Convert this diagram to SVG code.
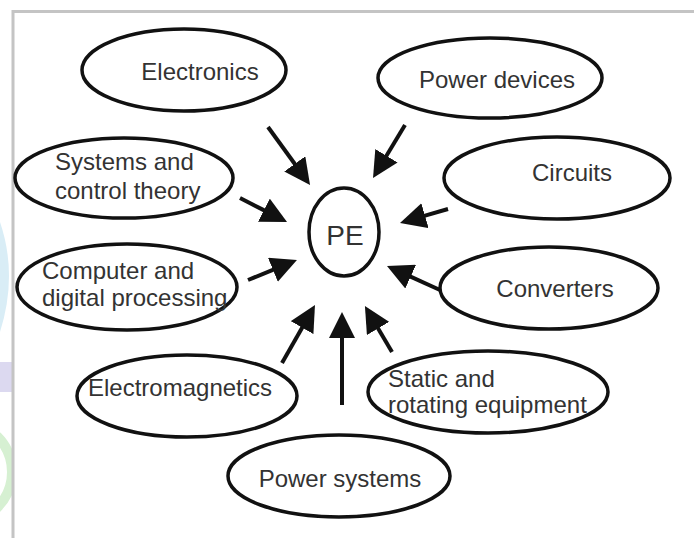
<svg xmlns="http://www.w3.org/2000/svg" width="694" height="538" viewBox="0 0 694 538">
  <style>
    .node ellipse { fill: #ffffff; stroke: #111111; stroke-width: 3.5; }
    .node text { font-family: "Liberation Sans", Arial, sans-serif; font-size: 24px; fill: #333333; }
    .pe text { font-size: 28px; }
    .conn line { stroke: #111111; stroke-width: 4; marker-end: url(#head); }
    .frame { stroke: #c4c4c4; stroke-width: 3; fill: none; }
  </style>
  <defs>
    <marker id="head" viewBox="0 0 10 10" refX="1" refY="5" markerWidth="26" markerHeight="26" markerUnits="userSpaceOnUse" orient="auto">
      <path d="M0,0 L10,5 L0,10 z" fill="#111111"/>
    </marker>
    <clipPath id="leftstrip"><rect x="0" y="0" width="12" height="538"/></clipPath>
  </defs>
  <rect width="694" height="538" fill="#ffffff"/>
  <g id="watermark" clip-path="url(#leftstrip)">
    <path d="M0,222 Q18,275 0,332 Z" fill="#d9edf6"/>
    <rect x="0" y="362" width="12" height="30" fill="#dcd9f0"/>
    <circle cx="-38" cy="472" r="50" fill="none" stroke="#d6f0d2" stroke-width="10"/>
  </g>
  <path class="frame" d="M13,538 L13,11.5 L694,11.5"/>

  <g id="connectors" class="conn">
    <line x1="268" y1="127" x2="296.3" y2="166"/>
    <line x1="405" y1="125" x2="385.1" y2="158"/>
    <line x1="240" y1="198" x2="266.2" y2="211.4"/>
    <line x1="448" y1="209" x2="422.5" y2="216.4"/>
    <line x1="248" y1="280" x2="275.3" y2="268.8"/>
    <line x1="440" y1="290" x2="408.3" y2="275.6"/>
    <line x1="282" y1="363" x2="303.4" y2="325.4"/>
    <line x1="342" y1="405" x2="342" y2="335.4"/>
    <line x1="392" y1="352" x2="376.8" y2="326.2"/>
  </g>

  <g id="pe" class="node pe">
    <ellipse cx="344" cy="232" rx="35" ry="44"/>
    <text x="345" y="245" text-anchor="middle">PE</text>
  </g>
  <g id="electronics" class="node">
    <ellipse cx="184" cy="70" rx="102" ry="41"/>
    <text x="200" y="80" text-anchor="middle">Electronics</text>
  </g>
  <g id="power-devices" class="node">
    <ellipse cx="490" cy="78" rx="112" ry="40"/>
    <text x="497" y="88" text-anchor="middle">Power devices</text>
  </g>
  <g id="systems-control" class="node">
    <ellipse cx="124" cy="178" rx="109" ry="40"/>
    <text x="55" y="170">Systems and</text>
    <text x="55" y="199">control theory</text>
  </g>
  <g id="circuits" class="node">
    <ellipse cx="557" cy="178" rx="113" ry="41"/>
    <text x="572" y="181" text-anchor="middle">Circuits</text>
  </g>
  <g id="computer-digital" class="node">
    <ellipse cx="127" cy="287" rx="110" ry="43"/>
    <text x="42" y="279">Computer and</text>
    <text x="42" y="306">digital processing</text>
  </g>
  <g id="converters" class="node">
    <ellipse cx="549" cy="288" rx="109" ry="41"/>
    <text x="555" y="297" text-anchor="middle">Converters</text>
  </g>
  <g id="electromagnetics" class="node">
    <ellipse cx="187" cy="396" rx="110" ry="41"/>
    <text x="88" y="396">Electromagnetics</text>
  </g>
  <g id="static-rotating" class="node">
    <ellipse cx="488" cy="392" rx="120" ry="41"/>
    <text x="388" y="387">Static and</text>
    <text x="388" y="413">rotating equipment</text>
  </g>
  <g id="power-systems" class="node">
    <ellipse cx="339" cy="476" rx="111" ry="41"/>
    <text x="340" y="487" text-anchor="middle">Power systems</text>
  </g>
</svg>
